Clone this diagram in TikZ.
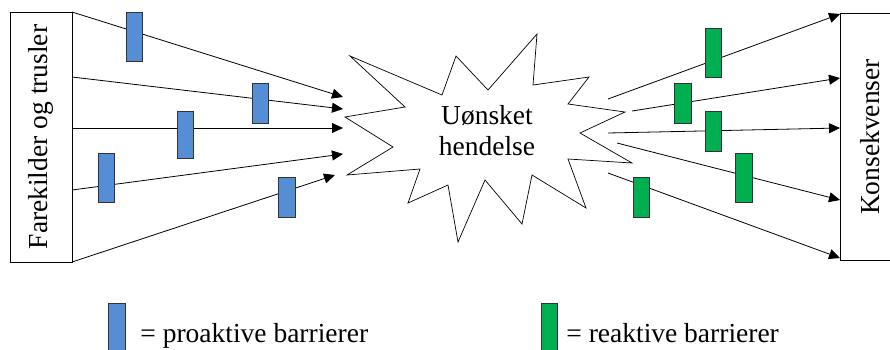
\documentclass[tikz,border=0pt]{standalone}
\usepackage{fontspec}
\setmainfont{Liberation Serif}
\newfontfamily\timesfont{Liberation Serif}
\usetikzlibrary{arrows.meta}
\definecolor{problue}{RGB}{85,142,213}
\definecolor{reagreen}{RGB}{0,176,80}
\begin{document}
\begin{tikzpicture}[x=1pt,y=-1pt,
  line width=0.8pt,
  txt/.style={font=\timesfont\fontsize{27.5}{31}\selectfont, inner sep=0pt},
  arr/.style={-{Triangle[length=11pt,width=10pt]}},
  barrier/.style={draw=black!80, line width=0.6pt, inner sep=0pt, anchor=north west},
  pbar/.style={barrier, fill=problue},
  rbar/.style={barrier, fill=reagreen}]
\useasboundingbox (0,0) rectangle (890,349);
\begin{scope}
\clip (0,0) rectangle (890,349);
% boxes
\node[draw, minimum width=62pt, minimum height=250pt, inner sep=0pt, anchor=north west] (src) at (10,12) {};
\node[txt, rotate=90] (srctxt) at (41,137) {Farekilder og trusler};
\node[draw, minimum width=80pt, minimum height=247pt, inner sep=0pt, anchor=north west] (cons) at (840,13) {};
\node[txt, rotate=90] (constxt) at (870,137) {Konsekvenser};

% star
\draw[line width=0.7pt] (345,117) -- (405,107) -- (350,56) -- (442,95) -- (456,56) -- (488,90) -- (537,34) -- (533,85) -- (589,77) -- (568,104) -- (625,112) -- (580,133) -- (632,163) -- (568,159) -- (586,208) -- (532,175) -- (522,224) -- (485,180) -- (458,242) -- (448,185) -- (408,203) -- (420,169) -- (347,175) -- (393,147) -- cycle;
\node[txt, align=center] (event) at (487,131) {Uønsket\\hendelse};

% left arrow coordinates
\coordinate (ls1) at (72,12);  \coordinate (le1) at (343,97);
\coordinate (ls2) at (72,77);  \coordinate (le2) at (343,109);
\coordinate (ls3) at (72,128); \coordinate (le3) at (343,128);
\coordinate (ls4) at (72,190); \coordinate (le4) at (343,154);
\coordinate (ls5) at (72,262); \coordinate (le5) at (335,175);
\foreach \i in {1,...,5} {\draw[arr] (ls\i) -- (le\i);}

% right arrow coordinates
\coordinate (rs1) at (608,99);  \coordinate (re1) at (840,14);
\coordinate (rs2) at (632,111); \coordinate (re2) at (840,78);
\coordinate (rs3) at (608,133); \coordinate (re3) at (840,128);
\coordinate (rs4) at (617,143); \coordinate (re4) at (840,200);
\coordinate (rs5) at (608,173); \coordinate (re5) at (840,258);
\foreach \i in {1,...,5} {\draw[arr] (rs\i) -- (re\i);}

% proactive barriers
\node[pbar, minimum width=16pt, minimum height=49pt] (p1) at (126,12) {};
\node[pbar, minimum width=16pt, minimum height=40pt] (p2) at (252,83) {};
\node[pbar, minimum width=16pt, minimum height=47pt] (p3) at (177,111) {};
\node[pbar, minimum width=16pt, minimum height=49pt] (p4) at (98,153) {};
\node[pbar, minimum width=17pt, minimum height=40pt] (p5) at (278,177) {};

% reactive barriers
\node[rbar, minimum width=16pt, minimum height=49pt] (r1) at (705,28) {};
\node[rbar, minimum width=17pt, minimum height=40pt] (r2) at (674,83) {};
\node[rbar, minimum width=16pt, minimum height=40pt] (r3) at (705,111) {};
\node[rbar, minimum width=17pt, minimum height=49pt] (r4) at (735,153) {};
\node[rbar, minimum width=16pt, minimum height=40pt] (r5) at (633,177) {};

% legend
\node[pbar, minimum width=17pt, minimum height=55pt] (lp) at (108,303) {};
\node[txt, anchor=base west] (lptxt) at (140,342) {= proaktive barrierer};
\node[rbar, minimum width=16pt, minimum height=55pt] (lr) at (541,303) {};
\node[txt, anchor=base west] (lrtxt) at (566,342) {= reaktive barrierer};
\end{scope}
\end{tikzpicture}
\end{document}
